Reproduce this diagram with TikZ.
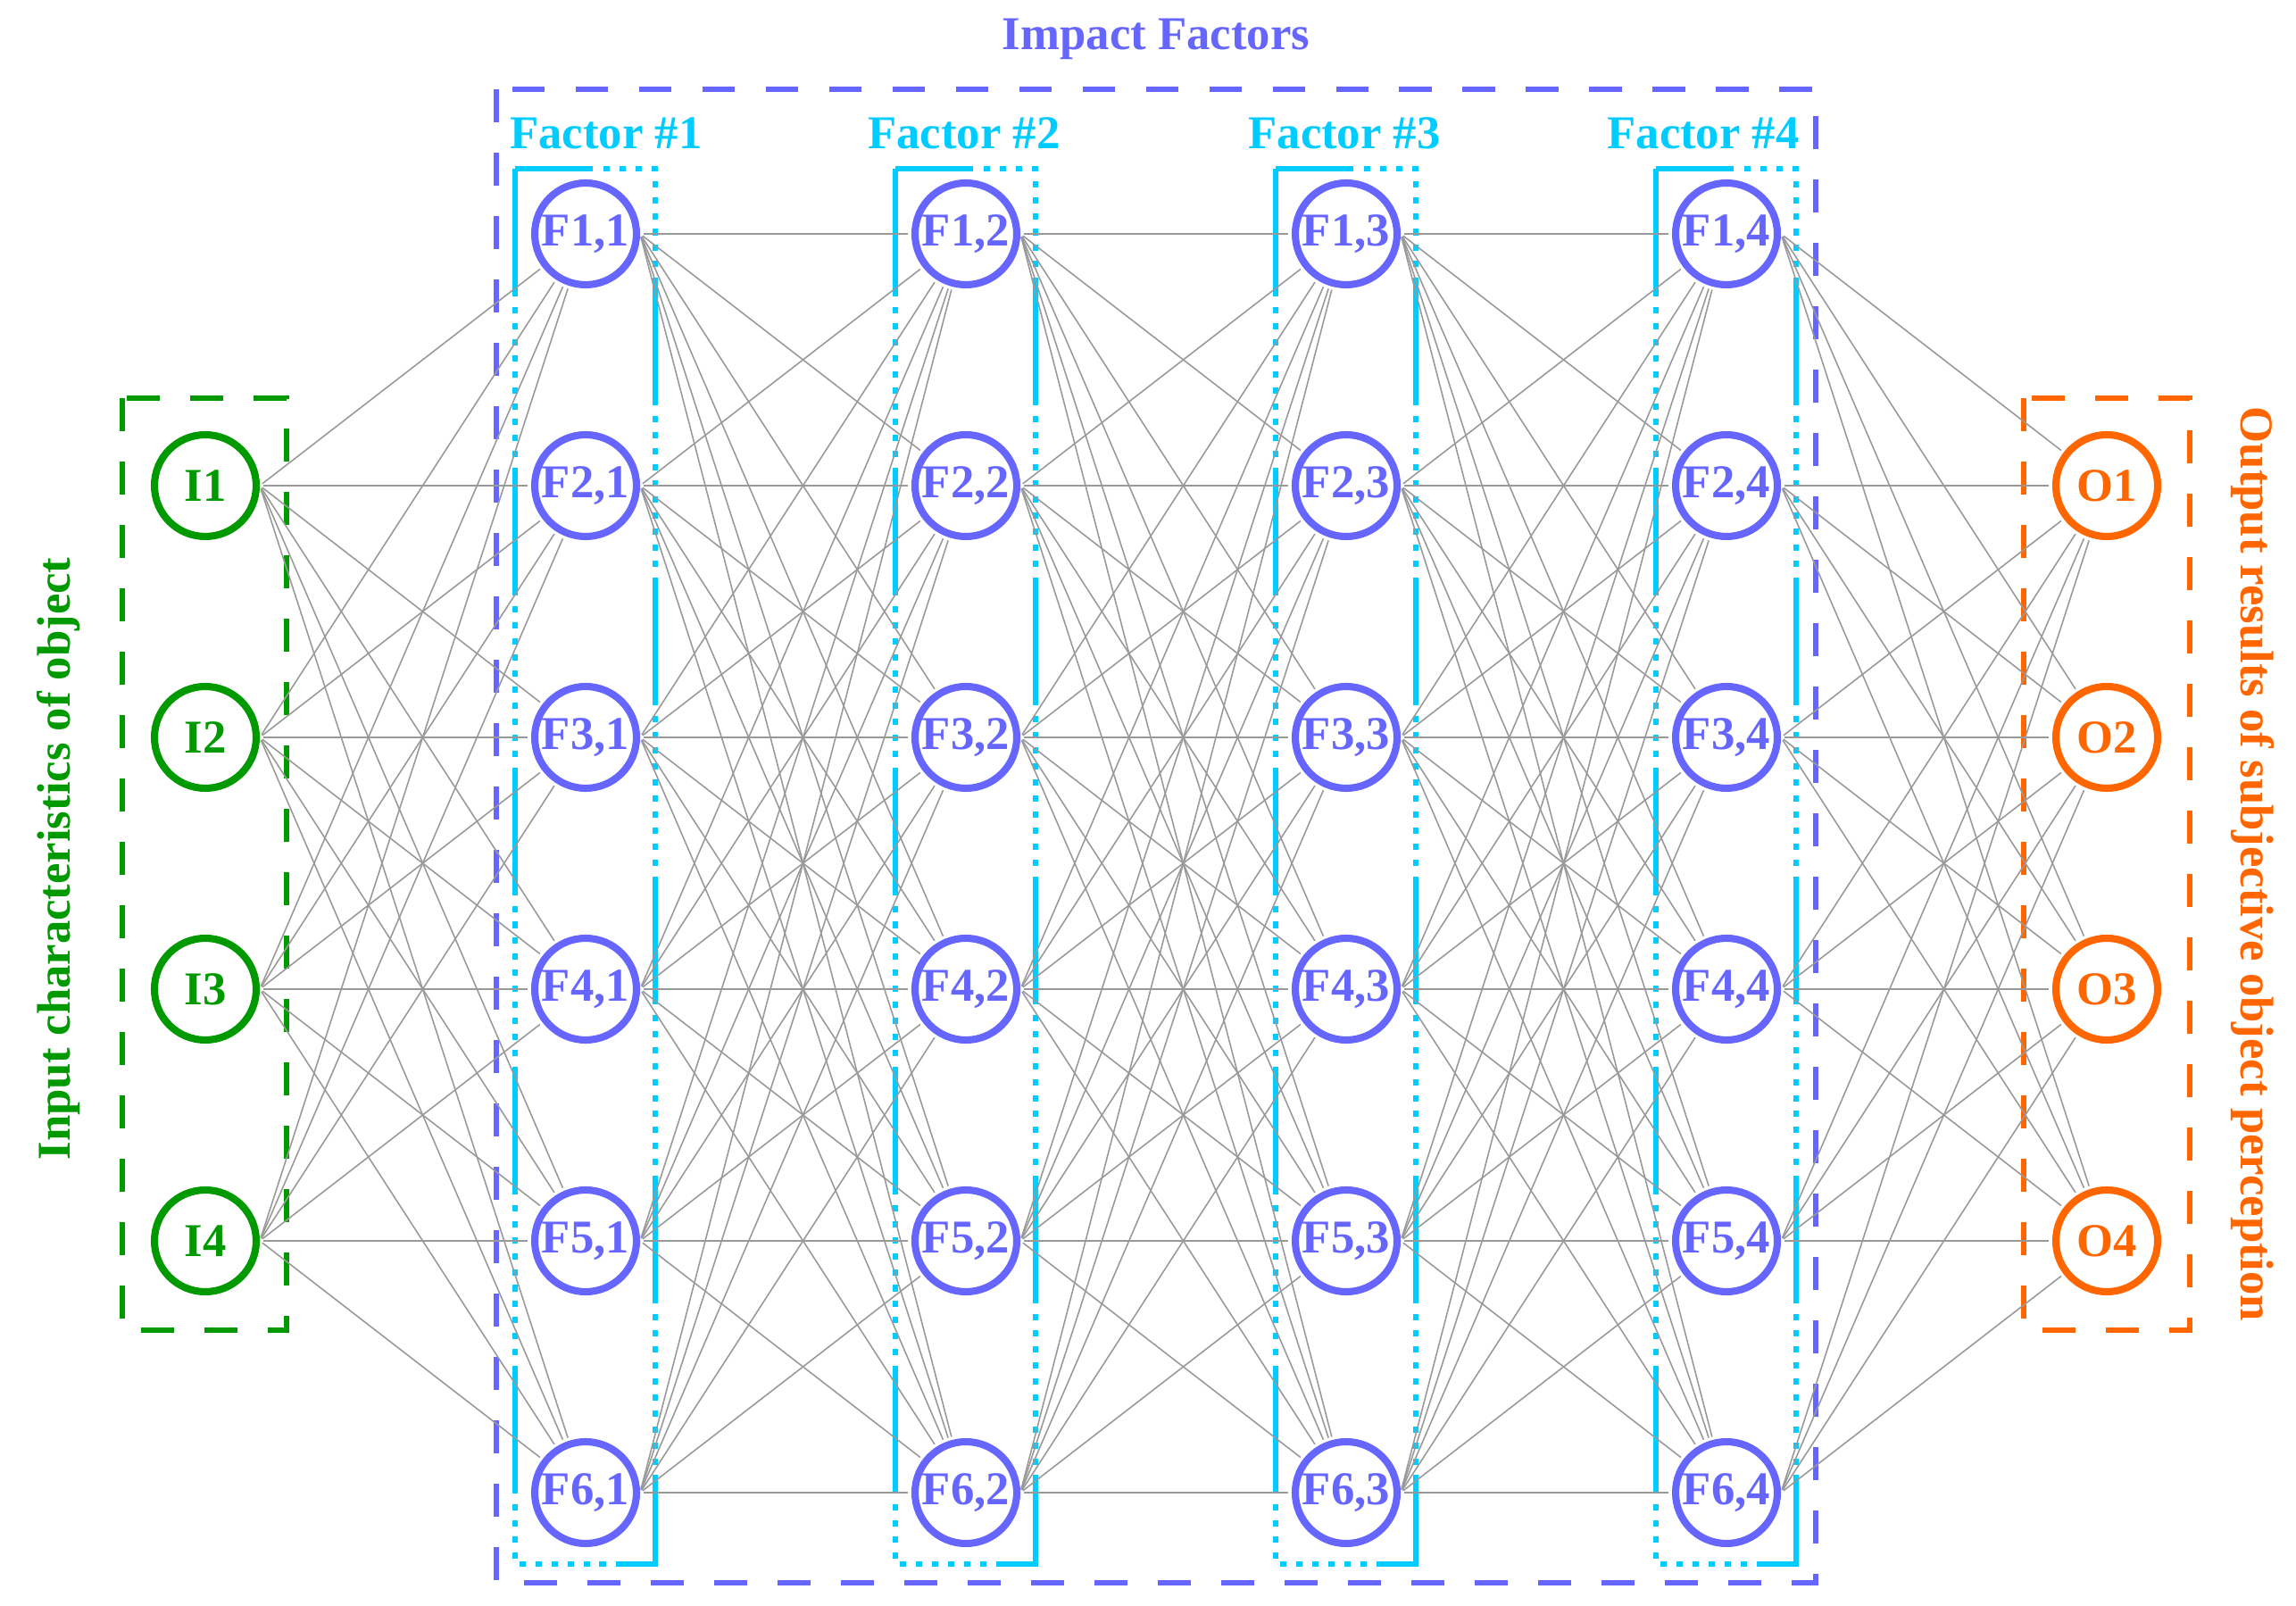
\documentclass[tikz,border=0pt]{standalone}
\usepackage{fontspec}
\setmainfont{Liberation Serif}
\definecolor{ingreen}{HTML}{009900}
\definecolor{facblue}{HTML}{6666FF}
\definecolor{faccyan}{HTML}{00CCFF}
\definecolor{outorange}{HTML}{FF6600}
\definecolor{linkgray}{HTML}{999999}
\tikzset{
  unit/.style={circle,draw,line width=2.3pt,minimum size=1.14cm,inner sep=0pt,font=\fontsize{15}{18}\selectfont\bfseries},
  inunit/.style={unit,draw=ingreen,text=ingreen},
  facunit/.style={unit,draw=facblue,text=facblue},
  outunit/.style={unit,draw=outorange,text=outorange},
  link/.style={draw=linkgray,line width=0.45pt,shorten <=1pt,shorten >=1pt},
  groupbox/.style={line width=1.7pt,dash pattern=on 10.5pt off 9.7pt},
  factorbox/.style={draw=faccyan,line width=1.85pt,
    dash pattern=on 40.7pt off 3.4pt on 2pt off 3.1pt on 2pt off 3.1pt on 2pt off 3.1pt
      on 2pt off 3.1pt on 2pt off 3.1pt on 2pt off 3.1pt on 2pt off 3.1pt on 2pt off 3.1pt
      on 2pt off 3.1pt on 2pt off 3.4pt},
  caption/.style={font=\fontsize{15}{18}\selectfont\bfseries,inner sep=0pt}
}
\begin{document}
\begin{tikzpicture}
\useasboundingbox (0,0) rectangle (25.72,17.98);

%%% GROUPS %%%
\draw[groupbox,draw=facblue] (5.56,16.98) rectangle (20.34,0.25);
\draw[groupbox,draw=ingreen] (1.37,13.52) rectangle (3.21,3.08);
\draw[groupbox,draw=outorange] (22.67,13.52) rectangle (24.53,3.08);
\draw[factorbox] (5.77,16.09) rectangle (7.34,0.46);
\draw[factorbox] (10.03,16.09) rectangle (11.60,0.46);
\draw[factorbox] (14.29,16.09) rectangle (15.86,0.46);
\draw[factorbox] (18.55,16.09) rectangle (20.12,0.46);

\node[caption,text=facblue,anchor=base] at (12.95,17.42) (impact) {Impact Factors};
\node[caption,text=faccyan,anchor=base] at (6.79,16.31) (factor1) {Factor \#1};
\node[caption,text=faccyan,anchor=base] at (10.80,16.31) (factor2) {Factor \#2};
\node[caption,text=faccyan,anchor=base] at (15.06,16.31) (factor3) {Factor \#3};
\node[caption,text=faccyan,anchor=base] at (19.08,16.31) (factor4) {Factor \#4};
\node[caption,text=ingreen,anchor=base,rotate=90] at (0.78,8.36) (inlabel) {Input characteristics of object};
\node[caption,text=outorange,anchor=base,rotate=-90] at (25.10,8.30) (outlabel) {Output results of subjective object perception};

%%% UNITS %%%
\node[inunit] at (2.30,12.54) (in1) {I1};
\node[inunit] at (2.30,9.72) (in2) {I2};
\node[inunit] at (2.30,6.90) (in3) {I3};
\node[inunit] at (2.30,4.08) (in4) {I4};

\node[facunit] at (6.56,15.36) (f1-1) {F1,1};
\node[facunit] at (6.56,12.54) (f2-1) {F2,1};
\node[facunit] at (6.56,9.72) (f3-1) {F3,1};
\node[facunit] at (6.56,6.90) (f4-1) {F4,1};
\node[facunit] at (6.56,4.08) (f5-1) {F5,1};
\node[facunit] at (6.56,1.26) (f6-1) {F6,1};

\node[facunit] at (10.82,15.36) (f1-2) {F1,2};
\node[facunit] at (10.82,12.54) (f2-2) {F2,2};
\node[facunit] at (10.82,9.72) (f3-2) {F3,2};
\node[facunit] at (10.82,6.90) (f4-2) {F4,2};
\node[facunit] at (10.82,4.08) (f5-2) {F5,2};
\node[facunit] at (10.82,1.26) (f6-2) {F6,2};

\node[facunit] at (15.08,15.36) (f1-3) {F1,3};
\node[facunit] at (15.08,12.54) (f2-3) {F2,3};
\node[facunit] at (15.08,9.72) (f3-3) {F3,3};
\node[facunit] at (15.08,6.90) (f4-3) {F4,3};
\node[facunit] at (15.08,4.08) (f5-3) {F5,3};
\node[facunit] at (15.08,1.26) (f6-3) {F6,3};

\node[facunit] at (19.34,15.36) (f1-4) {F1,4};
\node[facunit] at (19.34,12.54) (f2-4) {F2,4};
\node[facunit] at (19.34,9.72) (f3-4) {F3,4};
\node[facunit] at (19.34,6.90) (f4-4) {F4,4};
\node[facunit] at (19.34,4.08) (f5-4) {F5,4};
\node[facunit] at (19.34,1.26) (f6-4) {F6,4};

\node[outunit] at (23.60,12.54) (out1) {O1};
\node[outunit] at (23.60,9.72) (out2) {O2};
\node[outunit] at (23.60,6.90) (out3) {O3};
\node[outunit] at (23.60,4.08) (out4) {O4};

%%% LINKS %%%
\foreach \i in {1,...,4}
  \foreach \j in {1,...,6}
    \draw[link] (in\i.east) -- (f\j-1);
\foreach \k/\n in {1/2,2/3,3/4}
  \foreach \i in {1,...,6}
    \foreach \j in {1,...,6}
      \draw[link] (f\i-\k.east) -- (f\j-\n);
\foreach \i in {1,...,6}
  \foreach \j in {1,...,4}
    \draw[link] (f\i-4.east) -- (out\j);
\end{tikzpicture}
\end{document}
